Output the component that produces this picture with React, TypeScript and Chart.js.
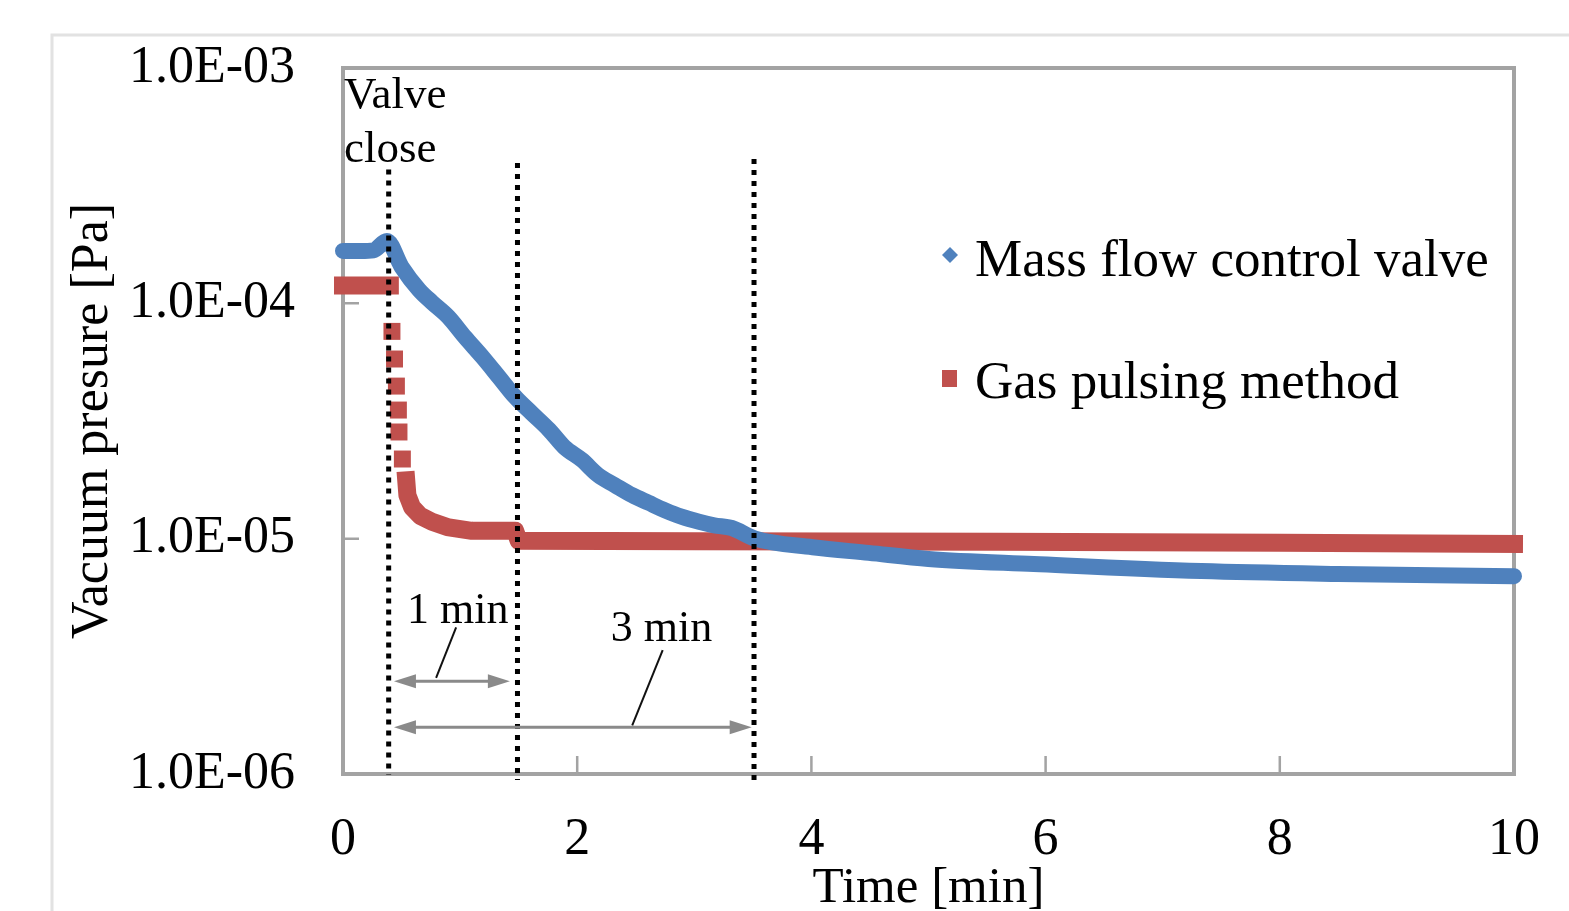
import React, { useEffect, useRef } from "react";
import { Chart, registerables } from "chart.js";

Chart.register(...registerables);

const FONT = '"Liberation Serif", "Times New Roman", Times, serif';

// ---- Data ----
const seriesNames = ["Mass flow control valve", "Gas pulsing method"];

const massFlowTime = [
  0, 0.15, 0.26, 0.375, 0.5, 0.65, 0.76, 0.9, 1.04, 1.19, 1.33, 1.47, 1.61,
  1.76, 1.89, 2.04, 2.18, 2.32, 2.47, 2.61, 2.75, 2.89, 3.04, 3.17, 3.32, 3.52,
  4.01, 4.49, 5.0, 5.9, 7.33, 8.5, 10,
];
const massFlowPressure = [
  1.67e-4, 1.67e-4, 1.68e-4, 1.84e-4, 1.43e-4, 1.14e-4, 1.01e-4, 8.75e-5,
  7.2e-5, 5.92e-5, 4.87e-5, 4.0e-5, 3.42e-5, 2.9e-5, 2.45e-5, 2.16e-5,
  1.86e-5, 1.69e-5, 1.53e-5, 1.42e-5, 1.32e-5, 1.24e-5, 1.18e-5, 1.14e-5,
  1.11e-5, 1.0e-5, 9.2e-6, 8.7e-6, 8.2e-6, 7.8e-6, 7.28e-6, 7.08e-6, 6.93e-6,
];

const gasPulseTime = [
  0, 0.2, 0.4, 0.418, 0.44, 0.456, 0.473, 0.478, 0.507, 0.54, 0.55, 0.59,
  0.66, 0.76, 0.89, 1.1, 1.47, 1.5, 3.0, 5.6, 8.0, 10,
];
const gasPulsePressure = [
  1.19e-4, 1.19e-4, 1.19e-4, 7.6e-5, 5.8e-5, 4.45e-5, 3.52e-5, 2.84e-5,
  2.18e-5, 1.77e-5, 1.53e-5, 1.36e-5, 1.25e-5, 1.18e-5, 1.12e-5, 1.08e-5,
  1.08e-5, 9.8e-6, 9.75e-6, 9.7e-6, 9.6e-6, 9.5e-6,
];
// indices of the isolated samples during the pressure drop
const gasPulseDropFirst = 3;
const gasPulseDropLast = 8;

const xTicks = [0, 2, 4, 6, 8, 10];
const yTicks = [1e-6, 1e-5, 1e-4, 1e-3];

// annotations
const markerTimes = [0.39, 1.49, 3.51];
const markerTops = [3.7e-4, 3.95e-4, 4.1e-4];
const markerBottomExtra = [1, 6, 8];
const spanLabels = ["1 min", "3 min"];
const spanStart = [0.435, 0.435];
const spanEnd = [1.425, 3.49];
const spanLevel = [2.48e-6, 1.58e-6];
const labelTime = [0.98, 2.72];
const labelLevel = [4.38e-6, 3.67e-6];
const leaderFrom = [
  [0.966, 4.2e-6],
  [2.73, 3.36e-6],
];
const leaderTo = [
  [0.795, 2.56e-6],
  [2.47, 1.61e-6],
];

const BLUE = "#4f81bd";
const RED = "#c0504d";

function fmtExp(v: number) {
  const e = Math.round(Math.log10(v));
  const sign = e < 0 ? "-" : "+";
  return "1.0E" + sign + String(Math.abs(e)).padStart(2, "0");
}

const decor = {
  id: "decor",
  beforeDraw(chart: any) {
    const ctx = chart.ctx;
    ctx.save();
    ctx.fillStyle = "#ffffff";
    ctx.fillRect(0, 0, chart.width, chart.height);
    ctx.strokeStyle = "#e2e2e2";
    ctx.lineWidth = 3;
    ctx.beginPath();
    ctx.moveTo(chart.width + 5, 35);
    ctx.lineTo(52, 35);
    ctx.lineTo(52, chart.height + 5);
    ctx.stroke();
    ctx.restore();
  },
  beforeDatasetsDraw(chart: any) {
    const { ctx, chartArea: a, scales } = chart;
    ctx.save();
    ctx.strokeStyle = "#a3a3a3";
    ctx.lineWidth = 4;
    ctx.strokeRect(a.left, a.top, a.right - a.left, a.bottom - a.top);
    ctx.lineWidth = 2.5;
    ctx.beginPath();
    yTicks.slice(1, -1).forEach((v) => {
      const y = scales.y.getPixelForValue(v);
      ctx.moveTo(a.left, y);
      ctx.lineTo(a.left + 16, y);
    });
    xTicks.slice(1, -1).forEach((v) => {
      const x = scales.x.getPixelForValue(v);
      ctx.moveTo(x, a.bottom);
      ctx.lineTo(x, a.bottom - 18);
    });
    ctx.stroke();
    ctx.restore();
  },
  afterDatasetsDraw(chart: any) {
    const { ctx, chartArea: a, scales } = chart;
    const X = (v: number) => scales.x.getPixelForValue(v);
    const Y = (v: number) => scales.y.getPixelForValue(v);
    ctx.save();

    // dotted vertical markers
    ctx.strokeStyle = "#000000";
    ctx.lineWidth = 5;
    ctx.setLineDash([5, 6]);
    markerTimes.forEach((t, i) => {
      const x = X(t);
      ctx.beginPath();
      ctx.moveTo(x, Y(markerTops[i]));
      ctx.lineTo(x, a.bottom + markerBottomExtra[i]);
      ctx.stroke();
    });
    ctx.setLineDash([]);

    // span arrows
    ctx.strokeStyle = "#8a8a8a";
    ctx.fillStyle = "#8a8a8a";
    ctx.lineWidth = 3;
    const head = (x: number, y: number, dir: number) => {
      ctx.beginPath();
      ctx.moveTo(x, y);
      ctx.lineTo(x + dir * 22, y - 7);
      ctx.lineTo(x + dir * 22, y + 7);
      ctx.closePath();
      ctx.fill();
    };
    spanStart.forEach((s, i) => {
      const x1 = X(s);
      const x2 = X(spanEnd[i]);
      const y = Y(spanLevel[i]);
      ctx.beginPath();
      ctx.moveTo(x1 + 10, y);
      ctx.lineTo(x2 - 10, y);
      ctx.stroke();
      head(x1, y, 1);
      head(x2, y, -1);
    });

    // leaders
    ctx.strokeStyle = "#111111";
    ctx.lineWidth = 2;
    leaderFrom.forEach((p, i) => {
      ctx.beginPath();
      ctx.moveTo(X(p[0]), Y(p[1]));
      ctx.lineTo(X(leaderTo[i][0]), Y(leaderTo[i][1]));
      ctx.stroke();
    });

    // span labels
    ctx.fillStyle = "#000000";
    ctx.font = "44px " + FONT;
    ctx.textAlign = "center";
    ctx.textBaseline = "alphabetic";
    spanLabels.forEach((s, i) => {
      ctx.fillText(s, X(labelTime[i]), Y(labelLevel[i]));
    });

    // valve close
    ctx.textAlign = "left";
    ctx.font = "45px " + FONT;
    ctx.fillText("Valve", a.left + 1, a.top + 40);
    ctx.fillText("close", a.left + 1, a.top + 94);

    // legend
    ctx.font = "53px " + FONT;
    ctx.fillStyle = BLUE;
    ctx.beginPath();
    ctx.moveTo(950, 247);
    ctx.lineTo(958, 255);
    ctx.lineTo(950, 263);
    ctx.lineTo(942, 255);
    ctx.closePath();
    ctx.fill();
    ctx.fillStyle = RED;
    ctx.fillRect(942, 370, 15, 17);
    ctx.fillStyle = "#000000";
    ctx.fillText(seriesNames[0], 975, 276);
    ctx.fillText(seriesNames[1], 975, 398);

    ctx.restore();
  },
};

export default function App() {
  const ref = useRef<HTMLCanvasElement | null>(null);

  useEffect(() => {
    document.body.style.margin = "0";
    document.body.style.overflow = "hidden";
    const canvas = ref.current;
    if (!canvas) return;

    const blueData = massFlowTime.map((t, i) => ({ x: t, y: massFlowPressure[i] }));
    const redData = gasPulseTime.map((t, i) => ({ x: t, y: gasPulsePressure[i] }));

    const chart = new Chart(canvas, {
      type: "scatter",
      data: {
        datasets: [
          {
            label: seriesNames[1],
            data: redData,
            showLine: true,
            borderColor: RED,
            backgroundColor: RED,
            borderWidth: 18,
            borderCapStyle: "square",
            borderJoinStyle: "round",
            pointStyle: "rect",
            pointRadius: (c: any) =>
              c.dataIndex >= gasPulseDropFirst && c.dataIndex <= gasPulseDropLast ? 12 : 0,
            pointBorderWidth: 0,
            pointHoverRadius: 0,
            clip: false,
            segment: {
              borderColor: (c: any) =>
                c.p0DataIndex >= gasPulseDropFirst - 1 && c.p0DataIndex <= gasPulseDropLast
                  ? "rgba(0,0,0,0)"
                  : RED,
            },
            order: 2,
          } as any,
          {
            label: seriesNames[0],
            data: blueData,
            showLine: true,
            borderColor: BLUE,
            backgroundColor: BLUE,
            borderWidth: 16,
            borderCapStyle: "round",
            borderJoinStyle: "round",
            cubicInterpolationMode: "monotone",
            pointRadius: 0,
            pointHoverRadius: 0,
            clip: false,
            order: 1,
          } as any,
        ],
      },
      options: {
        animation: false,
        responsive: false,
        devicePixelRatio: 1,
        events: [],
        layout: { padding: { left: 0, top: 68, right: 55, bottom: 0 } },
        plugins: {
          legend: { display: false },
          tooltip: { enabled: false },
        },
        scales: {
          x: {
            type: "linear",
            min: 0,
            max: 10,
            afterFit: (s: any) => {
              s.height = 137;
            },
            afterBuildTicks: (s: any) => {
              s.ticks = xTicks.map((v) => ({ value: v }));
            },
            grid: { display: false, drawTicks: true, tickLength: 35 },
            border: { display: false },
            ticks: {
              padding: 0,
              color: "#000000",
              font: { family: FONT, size: 52 },
              maxRotation: 0,
              callback: (v: any) => String(v),
            },
            title: {
              display: true,
              text: "Time [min]",
              color: "#000000",
              font: { family: FONT, size: 51, lineHeight: 1.2 },
              padding: { top: 0, bottom: -8 },
            },
          },
          y: {
            type: "logarithmic",
            min: 1e-6,
            max: 1e-3,
            afterFit: (s: any) => {
              s.width = 343;
            },
            afterBuildTicks: (s: any) => {
              s.ticks = yTicks.map((v) => ({ value: v }));
            },
            grid: { display: false, drawTicks: true, tickLength: 48 },
            border: { display: false },
            ticks: {
              padding: 0,
              color: "#000000",
              font: { family: FONT, size: 52 },
              callback: (v: any) => fmtExp(Number(v)),
            },
            title: {
              display: true,
              text: "Vacuum presure [Pa]",
              color: "#000000",
              font: { family: FONT, size: 52, lineHeight: 1.2 },
              padding: { top: 62, bottom: 0 },
            },
          },
        },
      } as any,
      plugins: [decor],
    });

    return () => chart.destroy();
  }, []);

  return (
    <canvas
      ref={ref}
      width={1569}
      height={911}
      style={{ display: "block", width: 1569, height: 911 }}
    />
  );
}
